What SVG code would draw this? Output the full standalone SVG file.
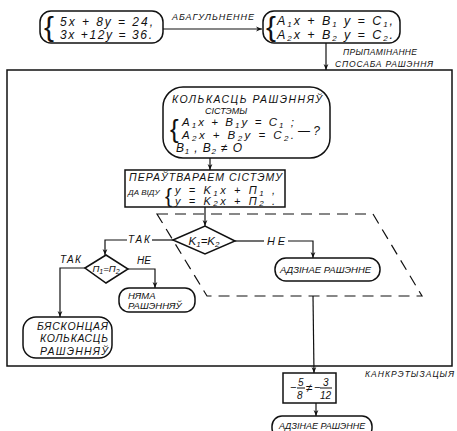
<svg xmlns="http://www.w3.org/2000/svg" width="457" height="431" viewBox="0 0 457 431">
<defs>
<marker id="ah" viewBox="0 0 10 10" refX="10" refY="5" markerWidth="6" markerHeight="6" orient="auto" markerUnits="userSpaceOnUse">
<path d="M0,1 L10,5 L0,9 L3,5 Z" fill="#111"/>
</marker>
<style>
.n{fill:#fff;stroke:#111;stroke-width:1.5}
.t{font-family:"Liberation Sans",Arial,sans-serif;font-style:italic;fill:#111}
.c{stroke:#111;stroke-width:1.2;fill:none}
.d{stroke:#111;stroke-width:1.2;fill:none;stroke-dasharray:11 7}
.br{font-family:"Liberation Sans",Arial,sans-serif;fill:#111}
</style>
</defs>
<rect width="457" height="431" fill="#fff"/>

<g id="frame"><rect x="7" y="70" width="445" height="296" fill="none" stroke="#111" stroke-width="1.5"/></g>
<g id="region"><polygon class="d" points="157,214 373,214 422,296 207,296"/></g>

<g id="connectors">
<line class="c" x1="163" y1="29" x2="262" y2="29" marker-end="url(#ah)"/>
<line class="c" x1="326" y1="43" x2="326" y2="70" marker-end="url(#ah)"/>
<line class="c" x1="210" y1="158" x2="210" y2="170" marker-end="url(#ah)"/>
<line class="c" x1="205" y1="207" x2="205" y2="226" marker-end="url(#ah)"/>
<polyline class="c" points="173,240 152,240"/>
<polyline class="c" points="127,240 105,240 105,255" marker-end="url(#ah)"/>
<polyline class="c" points="85,268 60,268 60,317" marker-end="url(#ah)"/>
<polyline class="c" points="128,269 155,269 155,288" marker-end="url(#ah)"/>
<polyline class="c" points="235,241 264,241"/>
<polyline class="c" points="288,241 313,241 313,258" marker-end="url(#ah)"/>
<line class="c" x1="313" y1="296" x2="314" y2="373" marker-end="url(#ah)"/>
<line class="c" x1="316" y1="403" x2="316" y2="416" marker-end="url(#ah)"/>
<text class="t" x="172" y="20" font-size="9" textLength="82">АБАГУЛЬНЕННЕ</text>
<text class="t" x="343" y="55" font-size="8.5" textLength="74">ПРЫПАМІНАННЕ</text>
<text class="t" x="335" y="67" font-size="8.5" textLength="98">СПОСАБА РАШЭННЯ</text>
<text class="t" x="128" y="243" font-size="10" textLength="22">ТАК</text>
<text class="t" x="60" y="263" font-size="10" textLength="21">ТАК</text>
<text class="t" x="137" y="264" font-size="10">НЕ</text>
<text class="t" x="267" y="245" font-size="11" textLength="18">НЕ</text>
<text class="t" x="365" y="377" font-size="8.5" textLength="89">КАНКРЭТЫЗАЦЫЯ</text>
</g>

<g id="start">
<rect class="n" x="40" y="11" width="123" height="32" rx="11"/>
<text class="br" x="44" y="38" font-size="30" transform="scale(1,0.95)">{</text>
<text class="t" x="60" y="25.5" font-size="12" textLength="93">5x  + 8y  = 24,</text>
<text class="t" x="60" y="39" font-size="12" textLength="92">3x  +12y = 36.</text>
</g>

<g id="general">
<rect class="n" x="263" y="11" width="137" height="32" rx="11"/>
<text class="br" x="266" y="38" font-size="30" transform="scale(1,0.95)">{</text>
<text class="t" x="277" y="25" font-size="12.5" textLength="116">A<tspan font-size="8" dy="1.5">1</tspan><tspan dy="-1.5">x + B</tspan><tspan font-size="8" dy="1.5">1</tspan><tspan dy="-1.5"> y = C</tspan><tspan font-size="8" dy="1.5">1</tspan><tspan dy="-1.5">,</tspan></text>
<text class="t" x="277" y="39" font-size="12.5" textLength="116">A<tspan font-size="8" dy="1.5">2</tspan><tspan dy="-1.5">x + B</tspan><tspan font-size="8" dy="1.5">2</tspan><tspan dy="-1.5"> y = C</tspan><tspan font-size="8" dy="1.5">2</tspan><tspan dy="-1.5">.</tspan></text>
</g>

<g id="count">
<rect class="n" x="163" y="87" width="167" height="71" rx="20"/>
<text class="t" x="172" y="103" font-size="10.5" textLength="150">КОЛЬКАСЦЬ РАШЭННЯЎ</text>
<text class="t" x="205" y="114" font-size="9">СІСТЭМЫ</text>
<text class="br" x="170" y="138" font-size="26">{</text>
<text class="t" x="182" y="126" font-size="11.5" textLength="112">A<tspan font-size="8" dy="1.5">1</tspan><tspan dy="-1.5">x + B</tspan><tspan font-size="8" dy="1.5">1</tspan><tspan dy="-1.5">y = C</tspan><tspan font-size="8" dy="1.5">1</tspan><tspan dy="-1.5"> ;</tspan></text>
<text class="t" x="182" y="139" font-size="11.5" textLength="112">A<tspan font-size="8" dy="1.5">2</tspan><tspan dy="-1.5">x + B</tspan><tspan font-size="8" dy="1.5">2</tspan><tspan dy="-1.5">y = C</tspan><tspan font-size="8" dy="1.5">2</tspan><tspan dy="-1.5">.</tspan></text>
<text class="t" x="298" y="135" font-size="12">— ?</text>
<text class="t" x="176" y="152" font-size="12" textLength="66">B<tspan font-size="8" dy="1.5">1</tspan><tspan dy="-1.5"> , B</tspan><tspan font-size="8" dy="1.5">2</tspan><tspan dy="-1.5"> ≠ O</tspan></text>
</g>

<g id="transform">
<rect class="n" x="125" y="170" width="160" height="37"/>
<text class="t" x="129" y="181" font-size="10.5" textLength="153">ПЕРАЎТВАРАЕМ СІСТЭМУ</text>
<text class="t" x="128" y="195" font-size="8">ДА ВІДУ</text>
<text class="br" x="165" y="203" font-size="21">{</text>
<text class="t" x="175" y="194" font-size="11" textLength="100">y = K<tspan font-size="8" dy="1.5">1</tspan><tspan dy="-1.5">x + П</tspan><tspan font-size="8" dy="1.5">1</tspan><tspan dy="-1.5"> ,</tspan></text>
<text class="t" x="175" y="204.5" font-size="11" textLength="100">y = K<tspan font-size="8" dy="1.5">2</tspan><tspan dy="-1.5">x + П</tspan><tspan font-size="8" dy="1.5">2</tspan><tspan dy="-1.5"> .</tspan></text>
</g>

<g id="dK">
<polygon class="n" points="173,240 205,226 235,241 205,254"/>
<text class="t" x="204" y="245" font-size="11.5" text-anchor="middle">K<tspan font-size="8" dy="2">1</tspan><tspan dy="-2">=K</tspan><tspan font-size="8" dy="2">2</tspan></text>
</g>

<g id="dP">
<polygon class="n" points="85,268 106,255 128,269 106,283"/>
<text class="t" x="106" y="272" font-size="9.5" text-anchor="middle">П<tspan font-size="7" dy="2">1</tspan><tspan dy="-2">=П</tspan><tspan font-size="7" dy="2">2</tspan></text>
</g>

<g id="infinite">
<rect class="n" x="23" y="317" width="89" height="41" rx="13"/>
<text class="t" x="37" y="330" font-size="10.5" textLength="71">БЯСКОНЦАЯ</text>
<text class="t" x="40" y="342" font-size="10.5" textLength="68">КОЛЬКАСЦЬ</text>
<text class="t" x="40" y="355" font-size="10.5" textLength="68">РАШЭННЯЎ</text>
</g>

<g id="none">
<rect class="n" x="119" y="288" width="76" height="24" rx="10"/>
<text class="t" x="128" y="299" font-size="9.5">НЯМА</text>
<text class="t" x="128" y="309" font-size="9.5">РАШЭННЯЎ</text>
</g>

<g id="one">
<rect class="n" x="275" y="258" width="105" height="23" rx="11"/>
<text class="t" x="280" y="273" font-size="9.5">АДЗІНАЕ РАШЭННЕ</text>
</g>

<g id="concrete">
<rect class="n" x="283" y="373" width="53" height="30"/>
<text class="t" x="290" y="391" font-size="11">−</text>
<text class="t" x="298" y="386" font-size="10">5</text>
<line x1="297" y1="388" x2="305" y2="388" stroke="#111" stroke-width="1"/>
<text class="t" x="297" y="399" font-size="10">8</text>
<text class="t" x="306" y="392" font-size="12">≠</text>
<text class="t" x="314" y="391" font-size="11">−</text>
<text class="t" x="323" y="386" font-size="10">3</text>
<line x1="320" y1="388" x2="332" y2="388" stroke="#111" stroke-width="1"/>
<text class="t" x="320" y="399" font-size="10">12</text>
</g>

<g id="result">
<rect class="n" x="272" y="416" width="100" height="22" rx="10"/>
<text class="t" x="279" y="429" font-size="9">АДЗІНАЕ РАШЭННЕ</text>
</g>
</svg>
